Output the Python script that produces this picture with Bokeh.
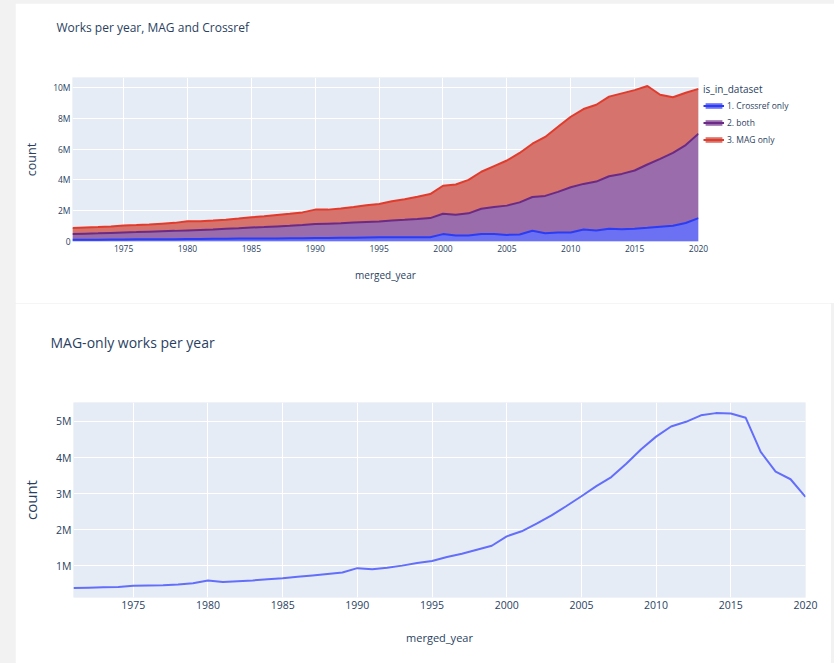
import numpy as np
from bokeh.plotting import figure
from bokeh.layouts import column
from bokeh.models import (ColumnDataSource, Range1d, FixedTicker, CustomJSTickFormatter,
                          Title, Legend, LegendItem)
from bokeh.embed import file_html
from bokeh.resources import INLINE

# ---------------- data (millions of works) ----------------
years = list(range(1971, 2021))

crossref_only_m = [0.11, 0.12, 0.12, 0.13, 0.13, 0.14, 0.14, 0.15, 0.15, 0.17,
                   0.17, 0.18, 0.18, 0.19, 0.19, 0.20, 0.20, 0.21, 0.21, 0.22,
                   0.23, 0.24, 0.25, 0.26, 0.27, 0.27, 0.28, 0.28, 0.28, 0.48,
                   0.39, 0.39, 0.48, 0.48, 0.43, 0.46, 0.70, 0.54, 0.59, 0.59,
                   0.78, 0.72, 0.83, 0.80, 0.83, 0.89, 0.96, 1.02, 1.20, 1.52]

both_m = [0.37, 0.39, 0.41, 0.43, 0.46, 0.47, 0.50, 0.52, 0.54, 0.55,
          0.58, 0.60, 0.64, 0.67, 0.72, 0.74, 0.78, 0.81, 0.86, 0.91,
          0.93, 0.95, 0.98, 1.01, 1.03, 1.10, 1.13, 1.18, 1.24, 1.32,
          1.35, 1.44, 1.65, 1.76, 1.90, 2.08, 2.19, 2.42, 2.63, 2.93,
          2.96, 3.17, 3.41, 3.59, 3.78, 4.11, 4.41, 4.74, 5.06, 5.48]

mag_only_m = [0.39, 0.40, 0.41, 0.42, 0.45, 0.46, 0.47, 0.49, 0.52, 0.60,
              0.56, 0.58, 0.60, 0.63, 0.66, 0.70, 0.74, 0.78, 0.82, 0.94,
              0.91, 0.95, 1.01, 1.08, 1.14, 1.25, 1.34, 1.45, 1.56, 1.82,
              1.96, 2.17, 2.40, 2.66, 2.93, 3.21, 3.46, 3.83, 4.23, 4.58,
              4.86, 4.99, 5.17, 5.23, 5.22, 5.10, 4.16, 3.61, 3.40, 2.91]

series_labels = ["1. Crossref only", "2. both", "3. MAG only"]
x_ticks = [1975, 1980, 1985, 1990, 1995, 2000, 2005, 2010, 2015, 2020]
top_y_ticks = [0, 2e6, 4e6, 6e6, 8e6, 10e6]
bottom_y_ticks = [1e6, 2e6, 3e6, 4e6, 5e6]

# ---------------- styling ----------------
FONT = "Open Sans"
TXT = "#2a3f5f"
BG = "#e5ecf6"
PAGE = "#f2f2f2"
fill_colors = ["#6c70f2", "#9a6cab", "#d5736c"]
line_colors = ["#2a3cf6", "#6a2a85", "#e23b2b"]

src = ColumnDataSource(data=dict(
    year=years,
    crossref=np.array(crossref_only_m) * 1e6,
    both=np.array(both_m) * 1e6,
    mag=np.array(mag_only_m) * 1e6,
))

fmt = CustomJSTickFormatter(code="return tick === 0 ? '0' : (Math.round(tick/1e5)/10) + 'M';")


def style_axes(p, tick_size, xlabel_size, ylabel_size, xs, xa, ys, ya):
    for ax in (p.xaxis[0], p.yaxis[0]):
        ax.axis_line_color = None
        ax.major_tick_line_color = None
        ax.minor_tick_line_color = None
        ax.major_tick_out = 0
        ax.major_tick_in = 0
        ax.minor_tick_out = 0
        ax.minor_tick_in = 0
        ax.major_label_text_color = TXT
        ax.major_label_text_font = FONT
        ax.major_label_text_font_size = tick_size
        ax.axis_label_text_color = TXT
        ax.axis_label_text_font = FONT
        ax.axis_label_text_font_style = "normal"
    p.xaxis[0].axis_label_text_font_size = xlabel_size
    p.xaxis[0].major_label_standoff = xs
    p.xaxis[0].axis_label_standoff = xa
    p.yaxis[0].axis_label_text_font_size = ylabel_size
    p.yaxis[0].major_label_standoff = ys
    p.yaxis[0].axis_label_standoff = ya
    p.xgrid.grid_line_color = "white"
    p.ygrid.grid_line_color = "white"


# ---------------- top chart ----------------
p1 = figure(frame_width=626, frame_height=164, output_backend="svg", toolbar_location=None,
            x_range=Range1d(1971, 2020), y_range=Range1d(0, 10.65e6),
            min_border_left=57, min_border_right=133, min_border_top=74, min_border_bottom=62,
            background_fill_color=BG, border_fill_color="white", outline_line_color=None,
            x_axis_label="merged_year", y_axis_label="count")
p1.margin = (3, 3, 0, 15)

areas = p1.varea_stack(["crossref", "both", "mag"], x="year", color=fill_colors, source=src)
lines = p1.vline_stack(["crossref", "both", "mag"], x="year", color=line_colors,
                       line_width=2, source=src)

p1.xaxis.ticker = FixedTicker(ticks=x_ticks)
p1.yaxis.ticker = FixedTicker(ticks=top_y_ticks)
p1.yaxis.formatter = fmt
style_axes(p1, "8.5px", "10px", "12.5px", 3, 13, 2, 10)

legend = Legend(items=[LegendItem(label=series_labels[i], renderers=[areas[i], lines[i]])
                       for i in range(3)],
                title="is_in_dataset", location="top_left",
                background_fill_alpha=0, border_line_color=None,
                label_text_font=FONT, label_text_font_size="8.5px", label_text_color=TXT,
                title_text_font=FONT, title_text_font_size="10px", title_text_color=TXT,
                title_text_font_style="normal",
                glyph_width=21, glyph_height=7, label_height=13, spacing=4,
                padding=6, margin=5, label_standoff=3, title_standoff=3)
p1.add_layout(legend, "right")

p1.add_layout(Title(text="Works per year, MAG and Crossref\n\n", align="left", offset=-16,
                    vertical_align="top", standoff=12, text_font=FONT, text_font_size="12px",
                    text_font_style="normal", text_color=TXT), "above")

# ---------------- bottom chart ----------------
p2 = figure(frame_width=732, frame_height=195, output_backend="svg", toolbar_location=None,
            x_range=Range1d(1971, 2020), y_range=Range1d(0.128e6, 5.524e6),
            min_border_left=58, min_border_right=26, min_border_top=99, min_border_bottom=66,
            background_fill_color=BG, border_fill_color="white", outline_line_color=None,
            x_axis_label="merged_year", y_axis_label="count")
p2.margin = (0, 3, 0, 15)

p2.line(x="year", y="mag", source=src, line_color="#636efa", line_width=2)

p2.xaxis.ticker = FixedTicker(ticks=x_ticks)
p2.yaxis.ticker = FixedTicker(ticks=bottom_y_ticks)
p2.yaxis.formatter = fmt
style_axes(p2, "10.5px", "11px", "15px", 3, 18, 2, 12)

p2.add_layout(Title(text="MAG-only works per year\n\n", align="left", offset=-23,
                    vertical_align="top", standoff=22, text_font=FONT, text_font_size="14px",
                    text_font_style="normal", text_color=TXT), "above")

root1 = column(p1, styles={"background-color": PAGE})
root2 = column(p2, styles={"background-color": PAGE})

open("out.html", "w").write(file_html([root1, root2], INLINE))
